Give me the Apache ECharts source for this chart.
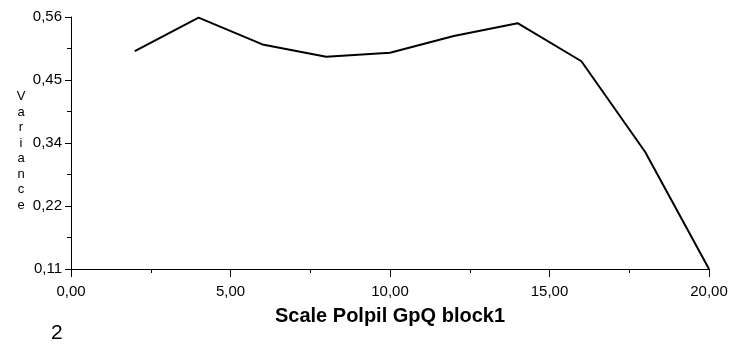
<!DOCTYPE html>
<html>
<head>
<meta charset="utf-8">
<script src="https://cdn.jsdelivr.net/npm/echarts@6/dist/echarts.min.js"></script>
<style>
  html, body { margin: 0; padding: 0; background: #fff; }
  #chart { width: 733px; height: 352px; }
</style>
</head>
<body>
<div id="chart"></div>
<script>
// Scale points and the variance at each of them
const scaleValues = [2, 4, 6, 8, 10, 12, 14, 16, 18, 20];
const varianceValues = [0.499, 0.559, 0.511, 0.489, 0.496, 0.526, 0.549, 0.481, 0.319, 0.11];

// Variance axis: major ticks and their printed labels
const yTickValues = [0.11, 0.2225, 0.335, 0.4475, 0.56];
const yTickLabels = ['0,11', '0,22', '0,34', '0,45', '0,56'];
const yMinorValues = [0.16625, 0.27875, 0.39125, 0.50375];

const xAxisTitle = 'Scale Polpil GpQ block1';
const yAxisTitle = 'Variance';
const panelNumber = '2';

const FONT = 'Arial, "Liberation Sans", sans-serif';
const INK = '#000';

const chart = echarts.init(document.getElementById('chart'), null, { renderer: 'canvas' });

chart.setOption({
  animation: false,
  backgroundColor: '#fff',
  grid: { left: 71, right: 24, top: 17, bottom: 83, containLabel: false },
  xAxis: {
    type: 'value',
    min: 0,
    max: 20,
    interval: 5,
    name: xAxisTitle,
    nameLocation: 'middle',
    nameGap: 37,
    nameTextStyle: { fontFamily: FONT, fontSize: 20, fontWeight: 'bold', color: INK },
    axisLine: { show: true, onZero: false, lineStyle: { color: INK, width: 1 } },
    axisTick: { show: true, length: 8, lineStyle: { color: INK } },
    minorTick: { show: true, splitNumber: 2, length: 4, lineStyle: { color: INK } },
    splitLine: { show: false },
    minorSplitLine: { show: false },
    axisLabel: {
      margin: 15,
      fontFamily: FONT,
      fontSize: 15,
      color: INK,
      formatter: v => v.toFixed(2).replace('.', ',')
    }
  },
  yAxis: [
    {
      type: 'value',
      min: 0.11,
      max: 0.56,
      position: 'left',
      // one letter per line, starting with a blank line to sit a little lower
      name: '\n' + yAxisTitle.split('').join('\n'),
      nameLocation: 'middle',
      nameRotate: 0,
      nameGap: 50,
      nameTextStyle: { fontFamily: FONT, fontSize: 13, color: INK, lineHeight: 15.5, align: 'center' },
      axisLine: { show: true, onZero: false, lineStyle: { color: INK, width: 1 } },
      axisTick: { show: true, length: 6, customValues: yTickValues, lineStyle: { color: INK } },
      splitLine: { show: false },
      axisLabel: {
        margin: 9,
        fontFamily: FONT,
        fontSize: 15,
        color: INK,
        customValues: yTickValues,
        formatter: v => {
          const i = yTickValues.findIndex(t => Math.abs(t - v) < 1e-6);
          return i >= 0 ? yTickLabels[i] : '';
        }
      }
    },
    {
      type: 'value',
      min: 0.11,
      max: 0.56,
      position: 'left',
      axisLine: { show: false },
      axisTick: { show: true, length: 4, customValues: yMinorValues, lineStyle: { color: INK } },
      axisLabel: { show: false },
      splitLine: { show: false }
    }
  ],
  graphic: [
    {
      type: 'text',
      left: 51,
      top: 323,
      style: { text: panelNumber, fontFamily: FONT, fontSize: 21, fill: INK }
    }
  ],
  series: [
    {
      type: 'line',
      yAxisIndex: 0,
      data: scaleValues.map((x, i) => [x, varianceValues[i]]),
      symbol: 'none',
      lineStyle: { color: INK, width: 2 },
      clip: false
    }
  ]
});
</script>
</body>
</html>
